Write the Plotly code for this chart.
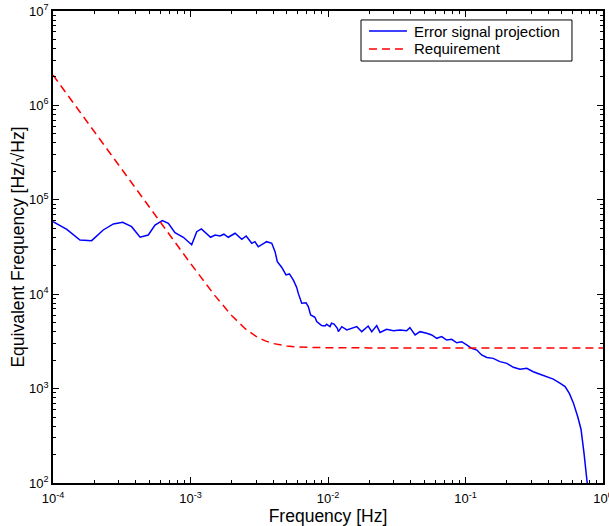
import plotly.graph_objects as go

# Error signal projection
err_freq = [1.00e-4, 1.26e-4, 1.57e-4, 1.91e-4, 2.32e-4, 2.75e-4, 3.21e-4, 3.73e-4, 4.30e-4, 4.93e-4,
            5.52e-4, 6.24e-4, 6.90e-4, 7.71e-4, 8.87e-4, 1.02e-3, 1.11e-3, 1.20e-3, 1.40e-3, 1.51e-3,
            1.64e-3, 1.75e-3, 1.88e-3, 2.11e-3, 2.36e-3, 2.54e-3, 2.79e-3, 2.94e-3, 3.11e-3, 3.39e-3,
            3.58e-3, 3.90e-3, 4.12e-3, 4.28e-3, 4.60e-3, 4.95e-3, 5.24e-3, 5.60e-3, 5.92e-3, 6.08e-3,
            6.44e-3, 6.92e-3, 7.19e-3, 7.48e-3, 8.04e-3, 8.28e-3, 8.75e-3, 8.99e-3, 9.51e-3, 9.77e-3,
            1.035e-2, 1.06e-2, 1.107e-2, 1.17e-2, 1.19e-2, 1.26e-2, 1.37e-2, 1.49e-2, 1.62e-2, 1.76e-2,
            1.96e-2, 2.08e-2, 2.26e-2, 2.39e-2, 2.67e-2, 2.99e-2, 3.34e-2, 3.73e-2, 3.94e-2, 4.30e-2,
            4.67e-2, 5.22e-2, 5.68e-2, 6.18e-2, 6.71e-2, 7.29e-2, 7.94e-2, 8.63e-2, 9.38e-2, 1.02e-1,
            1.11e-1, 1.21e-1, 1.31e-1, 1.43e-1, 1.59e-1, 1.78e-1, 2.00e-1, 2.23e-1, 2.49e-1, 2.79e-1,
            3.11e-1, 3.48e-1, 3.89e-1, 4.35e-1, 4.86e-1, 5.30e-1, 5.69e-1, 6.08e-1, 6.55e-1, 6.92e-1,
            7.28e-1, 7.69e-1, 7.94e-1]
err_val = [58600, 48600, 37500, 36900, 47900, 55500, 57800, 51900, 40100, 42400,
           54100, 60100, 56400, 44900, 40100, 33400, 45900, 49100, 40100, 42400,
           41400, 43200, 40100, 44200, 38100, 41400, 34600, 36000, 31800, 34600,
           36000, 34600, 28200, 22100, 19300, 16000, 16400, 14100, 11800, 10200,
           8020, 8130, 7380, 6030, 5690, 5120, 4830, 4650, 4600, 4800,
           4530, 4920, 4830, 4360, 4010, 4530, 4180, 4360, 4530, 4010,
           4600, 4010, 4650, 3940, 4250, 4100, 4180, 4100, 4420, 3700,
           4010, 3850, 3700, 3410, 3550, 3270, 3330, 3060, 3140, 2900,
           2670, 2560, 2270, 2140, 2090, 1930, 1850, 1680, 1600, 1640,
           1510, 1420, 1340, 1260, 1140, 1050, 890, 710, 504, 371,
           206, 103, 63]

# Requirement
req_freq = [1e-4, 2e-4, 3e-4, 5e-4, 7e-4, 1e-3, 1.5e-3, 2e-3, 2.5e-3, 3e-3, 3.5e-3, 4e-3,
            5e-3, 6e-3, 8e-3, 1e-2, 2e-2, 5e-2, 1e-1, 2e-1, 5e-1, 1.0]
req_val = [2.10e6, 5.25e5, 2.34e5, 8.41e4, 4.30e4, 2.12e4, 9.72e3, 5.91e3, 4.31e3, 3.57e3, 3.20e3, 3.00e3,
           2.83e3, 2.76e3, 2.72e3, 2.71e3, 2.70e3, 2.70e3, 2.70e3, 2.70e3, 2.70e3, 2.70e3]

series_names = ["Error signal projection", "Requirement"]
series_colors = ["#0000ff", "#ff0000"]
series_dash = ["solid", "8px,5px"]

# Tick positions and labels
x_ticks = [1e-4, 1e-3, 1e-2, 1e-1, 1]
x_ticklabels = ["10<sup>-4</sup>", "10<sup>-3</sup>", "10<sup>-2</sup>", "10<sup>-1</sup>", "10<sup>0</sup>"]
y_ticks = [1e2, 1e3, 1e4, 1e5, 1e6, 1e7]
y_ticklabels = ["10<sup>2</sup>", "10<sup>3</sup>", "10<sup>4</sup>", "10<sup>5</sup>", "10<sup>6</sup>", "10<sup>7</sup>"]
minor_digits = [2, 3, 4, 5, 6, 7, 8, 9]

x_minor = [d * t for t in x_ticks[:-1] for d in minor_digits]
y_minor = [d * t for t in y_ticks[:-1] for d in minor_digits]

FONT = "Liberation Sans, Arial, Helvetica, sans-serif"

fig = go.Figure()
fig.add_trace(go.Scatter(x=err_freq, y=err_val, mode="lines", name=series_names[0],
                         line=dict(color=series_colors[0], width=1.5, dash=series_dash[0])))
fig.add_trace(go.Scatter(x=req_freq, y=req_val, mode="lines", name=series_names[1],
                         line=dict(color=series_colors[1], width=1.5, dash=series_dash[1])))

axis_common = dict(
    type="log", showgrid=False, zeroline=False, automargin=False,
    showline=True, linecolor="black", linewidth=1.6, mirror="ticks",
    ticks="inside", ticklen=6, tickwidth=1, tickcolor="black",
    tickmode="array", ticklabeloverflow="allow",
    tickfont=dict(family=FONT, size=13, color="black"),
)

fig.update_xaxes(range=[-4, 0], tickvals=x_ticks, ticktext=x_ticklabels, ticklabelstandoff=3,
                 minor=dict(tickmode="array", tickvals=x_minor, ticks="inside", ticklen=3,
                            tickcolor="black", showgrid=False),
                 title=dict(text="Frequency [Hz]", font=dict(family=FONT, size=17.5, color="black"), standoff=4),
                 **axis_common)
fig.update_yaxes(range=[2, 7], tickvals=y_ticks, ticktext=y_ticklabels,
                 minor=dict(tickmode="array", tickvals=y_minor, ticks="inside", ticklen=3,
                            tickcolor="black", showgrid=False),
                 title=dict(text="Equivalent Frequency [Hz/\u221aHz]", font=dict(family=FONT, size=17.5, color="black"), standoff=0),
                 **axis_common)

# Legend box drawn in paper coordinates (box, sample lines, labels)
leg_x0, leg_x1, leg_y0, leg_y1 = 0.560, 0.9436, 0.894, 0.981
leg_rows = [0.9576, 0.9195]
leg_line_x = [0.5745, 0.6436]
leg_text_x = 0.6527

fig.add_shape(type="rect", xref="paper", yref="paper", x0=leg_x0, x1=leg_x1, y0=leg_y0, y1=leg_y1,
              line=dict(color="black", width=1), fillcolor="white", layer="above")
for name, color, dash, ry in zip(series_names, series_colors, series_dash, leg_rows):
    fig.add_shape(type="line", xref="paper", yref="paper", x0=leg_line_x[0], x1=leg_line_x[1], y0=ry, y1=ry,
                  line=dict(color=color, width=1.5, dash=dash), layer="above")
    fig.add_annotation(text=name, xref="paper", yref="paper", x=leg_text_x, y=ry,
                       xanchor="left", yanchor="middle", showarrow=False,
                       font=dict(family=FONT, size=15, color="black"))

fig.update_layout(
    width=609, height=526,
    margin=dict(l=53, r=6, t=11, b=43),
    paper_bgcolor="white", plot_bgcolor="white",
    font=dict(family=FONT, color="black"),
    showlegend=False,
)

fig.write_html("out.html", config={"displayModeBar": False},
               post_script="document.body.style.margin='0px';")
